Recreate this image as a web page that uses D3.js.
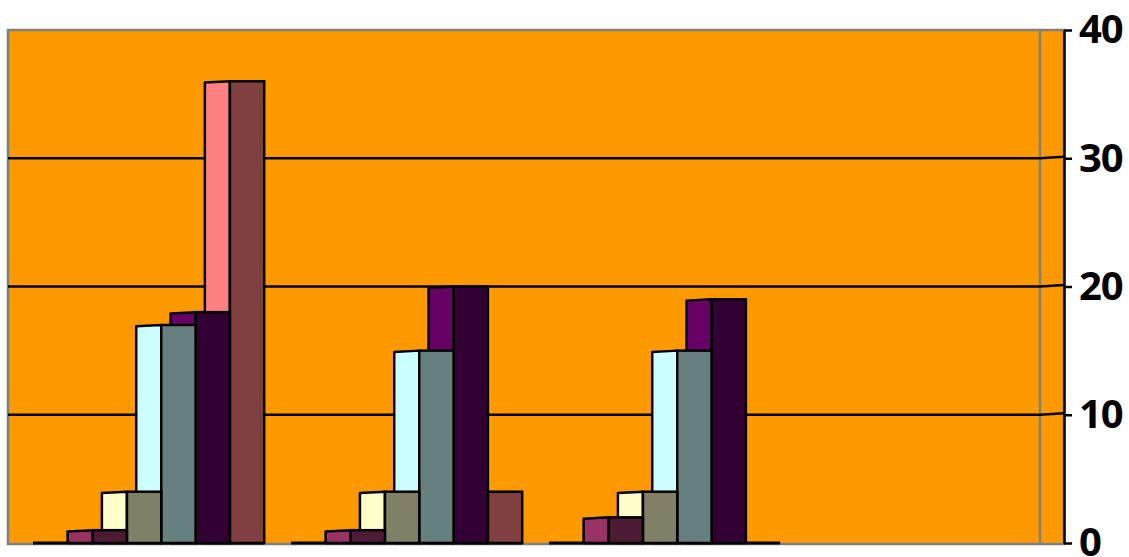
<!DOCTYPE html>
<html>
<head>
<meta charset="utf-8">
<script src="https://cdn.jsdelivr.net/npm/d3@7"></script>
<style>
  body { margin: 0; background: #fff; }
  svg { display: block; }
</style>
</head>
<body>
<svg></svg>
<script>
// data
let categories = ['1', '2', '3', '4']
let seriesNames = ['S1', 'S2', 'S3', 'S4', 'S5']
let cat1 = [1, 4, 17, 18, 36]
let cat2 = [1, 4, 15, 20, 4]
let cat3 = [2, 4, 15, 19, 0]
let cat4 = null   // empty category
let yTicks = [0, 10, 20, 30, 40]
let seriesColors = ['#993366', '#FFFFCC', '#CCFFFF', '#660066', '#FF8080']

let rows = [cat1, cat2, cat3, cat4]

let width = 1129,
    height = 557;
let plot = {left: 8, right: 1040, wall: 1064, top: 30, bottom: 543}

let svg = d3.select('svg')
            .attr('width', width)
            .attr('height', height)

// scales
let x0 = d3.scaleBand()
      .domain(categories)
      .range([plot.left, plot.right])
let bw = x0.bandwidth()

let x1 = d3.scaleBand()
      .domain(seriesNames)
      .range([bw * 0.328, bw * 0.993])

let y = d3.scaleLinear()
      .domain([0, 40])
      .range([plot.bottom, plot.top])

let depth = bw * 0.097   // width of the lit side face

function half(c) {
  let r = d3.rgb(c)
  return d3.rgb(r.r / 2, r.g / 2, r.b / 2).formatHex()
}

// plot area
svg.append('rect')
   .attr('x', plot.left)
   .attr('y', plot.top)
   .attr('width', plot.wall - plot.left)
   .attr('height', plot.bottom - plot.top + 1)
   .attr('fill', '#FF9900')
   .attr('stroke', '#808080')
   .attr('stroke-width', 2.5)

svg.append('line')
   .attr('x1', plot.right).attr('x2', plot.right)
   .attr('y1', plot.top).attr('y2', plot.bottom + 1)
   .attr('stroke', '#808080')
   .attr('stroke-width', 2.5)

// gridlines (back wall + side wall)
svg.append('g')
   .selectAll('polyline')
   .data(yTicks.filter(d => d > 0 && d < 40))
   .enter()
   .append('polyline')
   .attr('points', d => [[plot.left, y(d)], [plot.right, y(d)], [plot.wall, y(d) - 1.5]].join(' '))
   .attr('fill', 'none')
   .attr('stroke', '#000')
   .attr('stroke-width', 2.5)

// floor line under each filled category
svg.append('g')
   .selectAll('line')
   .data(categories.filter((c, i) => rows[i]))
   .enter()
   .append('line')
   .attr('x1', c => x0(c) + depth)
   .attr('x2', c => x0(c) + x1('S5') + x1.bandwidth())
   .attr('y1', y(0)).attr('y2', y(0))
   .attr('stroke', '#000')
   .attr('stroke-width', 3)

// bars: last series first so the first one sits in front
let bars = []
categories.forEach((c, i) => {
  if (!rows[i]) return
  rows[i].forEach((v, j) => bars.push({cat: c, s: seriesNames[j], v: v, color: seriesColors[j], order: j}))
})
bars = bars.filter(d => d.v > 0).sort((a, b) => b.order - a.order)

let barG = svg.append('g')
              .selectAll('g')
              .data(bars)
              .enter()
              .append('g')

barG.append('polygon')
    .attr('points', d => {
      let xs = x0(d.cat) + x1(d.s)
      return [[xs - depth, y(d.v) + 1.3], [xs, y(d.v)], [xs, y(0)], [xs - depth, y(0)]].join(' ')
    })
    .attr('fill', d => d.color)
    .attr('stroke', '#000')
    .attr('stroke-width', 2.5)
    .attr('stroke-linejoin', 'round')

barG.append('rect')
    .attr('x', d => x0(d.cat) + x1(d.s))
    .attr('y', d => y(d.v))
    .attr('width', x1.bandwidth())
    .attr('height', d => y(0) - y(d.v))
    .attr('fill', d => half(d.color))
    .attr('stroke', '#000')
    .attr('stroke-width', 2.5)

// right axis
let yAxis = d3.axisRight(y)
              .tickValues(yTicks)
              .tickSize(8)
              .tickSizeOuter(0)
              .tickPadding(7)

let ax = svg.append('g')
            .attr('transform', 'translate(' + plot.wall + ',0)')
            .call(yAxis)

ax.select('.domain').attr('stroke', '#000').attr('stroke-width', 2.5)
ax.selectAll('.tick line').attr('stroke', '#000').attr('stroke-width', 2.5)
ax.selectAll('.tick text')
  .attr('fill', '#000')
  .style('font-family', '"Open Sans", sans-serif')
  .style('font-weight', 'bold')
  .style('font-size', '40px')
  .attr('letter-spacing', '-1')
</script>
</body>
</html>
